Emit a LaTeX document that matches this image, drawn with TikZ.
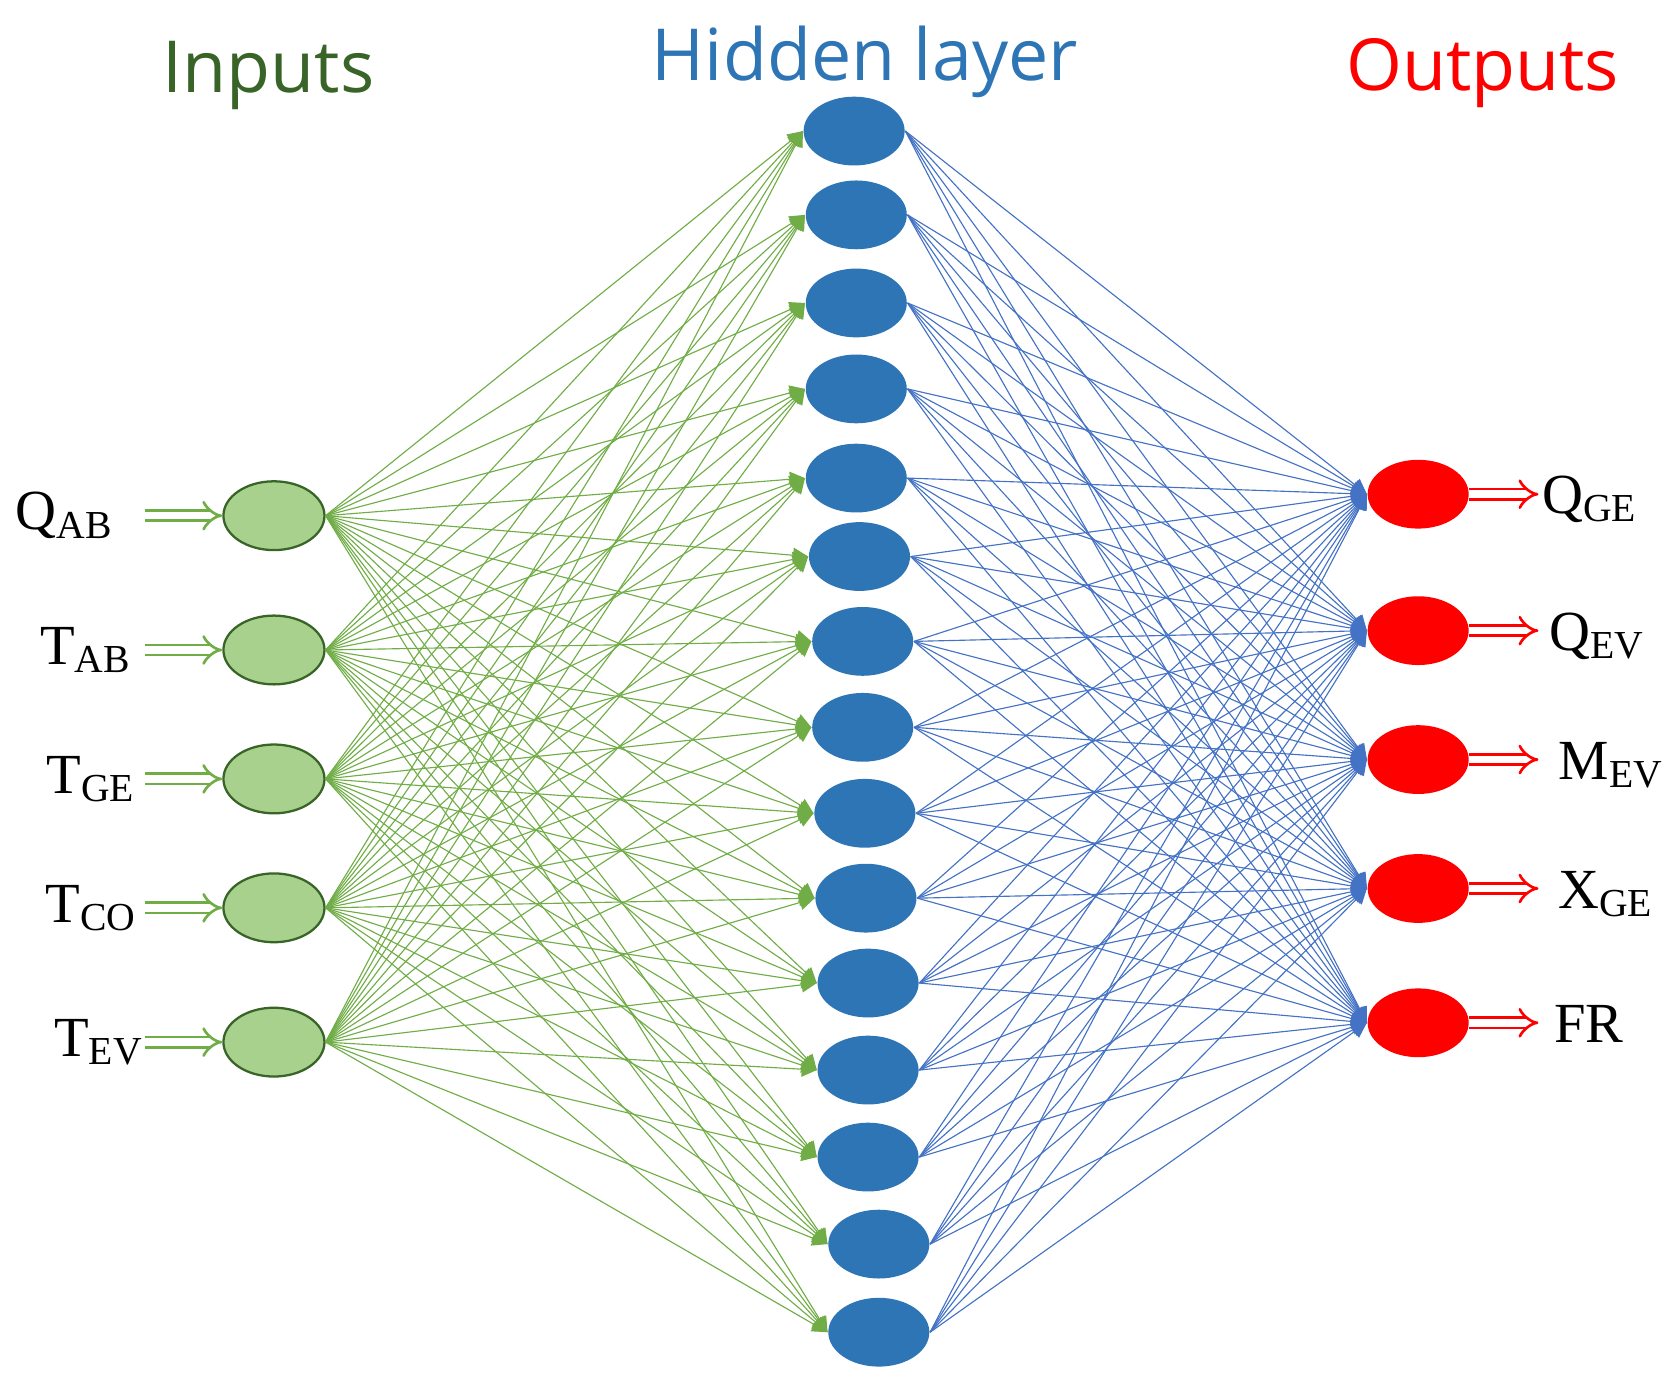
\documentclass[tikz,border=0pt]{standalone}
\usepackage{fontspec}
\setmainfont{Liberation Serif}
\newfontfamily\titlefont{Open Sans}
\usetikzlibrary{arrows.meta,shapes.geometric}
\definecolor{gfill}{RGB}{169,209,142}
\definecolor{gline}{RGB}{112,173,71}
\definecolor{gdark}{RGB}{56,100,40}
\definecolor{hblue}{RGB}{46,117,182}
\definecolor{lblue}{RGB}{68,114,196}
\begin{document}
\begin{tikzpicture}[x=0.01cm,y=-0.01cm,
  inp/.style={ellipse,draw=gdark,fill=gfill,minimum width=0.94cm,minimum height=0.64cm,inner sep=0pt,line width=0.6pt},
  hid/.style={ellipse,fill=hblue,minimum width=0.94cm,minimum height=0.64cm,inner sep=0pt},
  outn/.style={ellipse,fill=red,minimum width=0.94cm,minimum height=0.64cm,inner sep=0pt},
  gl/.style={draw=gline,line width=0.3pt,-{Triangle[length=4pt,width=4pt]}},
  bl/.style={draw=lblue,line width=0.3pt,-{Triangle[length=4pt,width=4pt]}},
  lab/.style={font=\fontsize{15}{17}\selectfont},
  title/.style={font=\titlefont\fontsize{19}{22}\selectfont}]
\useasboundingbox (0,0) rectangle (1560,1291);
\node[title,text=gdark] (ti) at (250,70) {Inputs};
\node[title,text=hblue] (th) at (805,58) {Hidden layer};
\node[title,text=red] (to) at (1380,68) {Outputs};
\foreach \i/\y/\t/\s/\lx in {1/480/Q/AB/60,2/605/T/AB/80,3/725/T/GE/85,4/845/T/CO/85,5/970/T/EV/92}{
  \node[inp] (in\i) at (255,\y) {};
  \node[lab] (l\i) at (\lx,\y) {\t\textsubscript{\s}};
  \coordinate (a\i) at (135,\y);
  \draw[draw=gline,double,double distance=2pt,line width=0.7pt,-{Implies}] (a\i) -- (in\i.west);
}
\foreach \i/\x/\y in {1/795/122,2/797/200,3/797/282,4/797/362,5/797/445,6/800/518,7/803/597,8/803/677,9/805/757,10/806/836,11/808/915,12/808/996,13/808/1077,14/818/1158,15/818/1240}{
  \node[hid] (h\i) at (\x,\y) {};
}
\foreach \i/\y/\t/\s/\lx in {1/460/Q/GE/1480,2/587/Q/EV/1487,3/707/M/EV/1500,4/827/X/GE/1495,5/952/FR//1480}{
  \node[outn] (o\i) at (1320,\y) {};
  \node[lab] (m\i) at (\lx,\y+5) {\t\textsubscript{\s}};
  \coordinate (b\i) at (1432,\y);
  \draw[draw=red,double,double distance=2pt,line width=0.7pt,-{Implies}] (o\i.east) -- (b\i);
}
\foreach \i in {1,...,5}{\foreach \j in {1,...,15}{\draw[gl] (in\i.east) -- (h\j.west);}}
\foreach \j in {1,...,15}{\foreach \k in {1,...,5}{\draw[bl] (h\j.east) -- (o\k.west);}}
\end{tikzpicture}
\end{document}
